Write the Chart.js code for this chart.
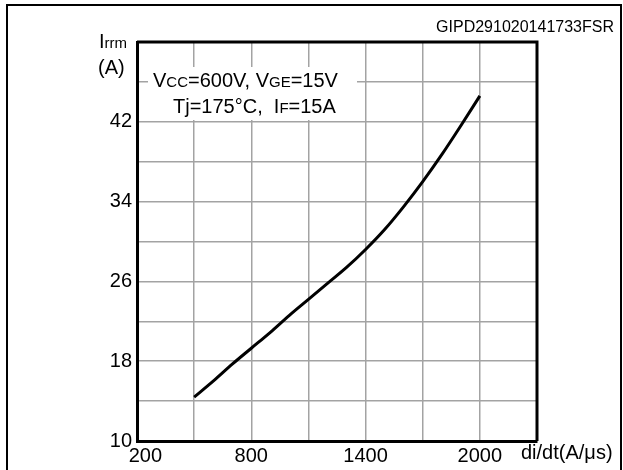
<!DOCTYPE html>
<html>
<head>
<meta charset="utf-8">
<script src="https://cdn.jsdelivr.net/npm/chart.js@4.4.1/dist/chart.umd.min.js"></script>
<style>
    html, body { margin: 0; padding: 0; background: #fff; }
    canvas { display: block; }
</style>
</head>
<body>
<canvas id="irrmChart" width="623" height="470"></canvas>
<script>
(function () {
    'use strict';

    // ── Data ──────────────────────────────────────────────────────────────────
    const DIDT = [500, 600, 700, 800, 900, 1000, 1100, 1200, 1300, 1400, 1500, 1600, 1700, 1800, 1900, 2000];
    const IRRM = [14.4, 16.0, 17.7, 19.3, 20.9, 22.6, 24.2, 25.8, 27.4, 29.2, 31.2, 33.5, 36.0, 38.7, 41.6, 44.6];

    const X_LABELS = [200, 800, 1400, 2000];
    const Y_LABELS = [10, 18, 26, 34, 42];

    const FONT = '"Liberation Sans", Arial, sans-serif';
    const GRID = '#a3a3a3';

    Chart.defaults.font.family = FONT;
    Chart.defaults.color = '#000';

    // draw runs of [text, size] one after the other on a baseline
    function runs(ctx, x, y, parts) {
        ctx.textAlign = 'left';
        ctx.textBaseline = 'alphabetic';
        parts.forEach(([t, size]) => {
            ctx.font = size + 'px ' + FONT;
            ctx.fillText(t, x, y);
            x += ctx.measureText(t).width;
        });
    }

    const decorations = {
        id: 'decorations',
        afterDraw(chart) {
            const ctx = chart.ctx;
            const a = chart.chartArea;
            ctx.save();

            // top/right plot border
            ctx.strokeStyle = '#000';
            ctx.lineWidth = 3;
            ctx.beginPath();
            ctx.moveTo(a.left, a.top);
            ctx.lineTo(a.right, a.top);
            ctx.lineTo(a.right, a.bottom);
            ctx.stroke();

            // conditions box
            ctx.fillStyle = '#fff';
            ctx.fillRect(148, 67, 209, 53);
            ctx.fillStyle = '#000';
            runs(ctx, 153, 87, [['V', 20], ['CC', 15], ['=600V, V', 20], ['GE', 15], ['=15V', 20]]);
            runs(ctx, 173, 113, [['Tj=175°C,  I', 20], ['F', 15], ['=15A', 20]]);

            // axis titles
            runs(ctx, 99, 48, [['I', 20], ['rrm', 15]]);
            runs(ctx, 98, 74, [['(A)', 20]]);
            runs(ctx, 521, 459, [['di/dt(A/μs)', 20]]);

            // figure code
            ctx.font = '16px ' + FONT;
            ctx.textAlign = 'right';
            ctx.fillText('GIPD291020141733FSR', 614, 31.5);

            // page frame
            ctx.lineWidth = 2;
            ctx.beginPath();
            ctx.moveTo(7, 470);
            ctx.lineTo(7, 5);
            ctx.lineTo(621, 5);
            ctx.lineTo(621, 470);
            ctx.stroke();

            ctx.restore();
        }
    };

    new Chart(document.getElementById('irrmChart'), {
        type: 'line',
        data: {
            datasets: [{
                data: DIDT.map((x, i) => ({ x: x, y: IRRM[i] })),
                borderColor: '#000',
                borderWidth: 3,
                pointRadius: 0,
                tension: 0.4,
                cubicInterpolationMode: 'monotone',
                fill: false,
            }]
        },
        options: {
            responsive: false,
            animation: false,
            layout: { padding: { top: 42, right: 86, bottom: 0, left: 0 } },
            plugins: {
                legend: { display: false },
                tooltip: { enabled: false },
            },
            scales: {
                x: {
                    type: 'linear',
                    min: 200,
                    max: 2300,
                    afterFit: s => { s.height = 29; },
                    grid: { color: GRID, lineWidth: 1.5, drawTicks: false },
                    border: { color: '#000', width: 3 },
                    ticks: {
                        stepSize: 300,
                        padding: 3,
                        maxRotation: 0,
                        autoSkip: false,
                        font: { size: 20 },
                        color: '#000',
                        // first label sits right of the corner so it clears the "10"
                        callback: v => X_LABELS.includes(v) ? (v === 200 ? '   200' : String(v)) : ''
                    }
                },
                y: {
                    min: 10,
                    max: 50,
                    afterFit: s => { s.width = 137; },
                    grid: { color: GRID, lineWidth: 1.5, drawTicks: false },
                    border: { color: '#000', width: 3 },
                    ticks: {
                        stepSize: 4,
                        padding: 5,
                        autoSkip: false,
                        font: { size: 20 },
                        color: '#000',
                        callback: v => Y_LABELS.includes(v) ? String(v) : ''
                    }
                }
            }
        },
        plugins: [decorations]
    });
})();
</script>
</body>
</html>
